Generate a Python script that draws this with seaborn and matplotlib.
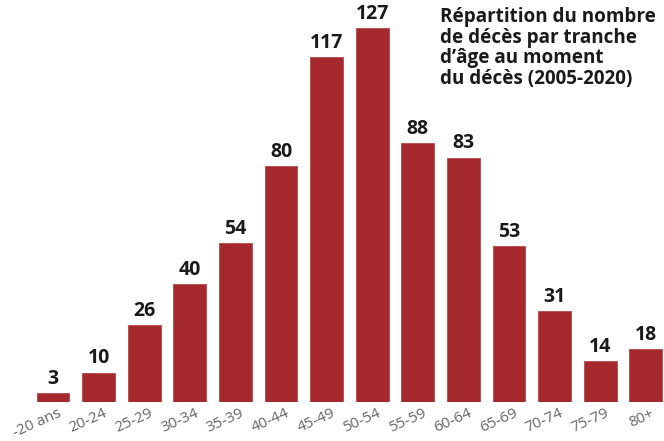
import matplotlib
matplotlib.use("Agg")
import matplotlib.pyplot as plt
import matplotlib.transforms as mtransforms
import seaborn as sns
import pandas as pd

# Deaths by age group at time of death, 2005-2020
age_groups = ["-20 ans", "20-24", "25-29", "30-34", "35-39", "40-44", "45-49",
              "50-54", "55-59", "60-64", "65-69", "70-74", "75-79", "80+"]
deaths = [3, 10, 26, 40, 54, 80, 117, 127, 88, 83, 53, 31, 14, 18]
title_text = ("Répartition du nombre\nde décès par tranche\n"
              "d\u2019âge au moment\ndu décès (2005-2020)")

sns.set_theme(style="white")
plt.rcParams["font.family"] = ["Open Sans", "DejaVu Sans"]

df = pd.DataFrame({"age": age_groups, "deaths": deaths})

fig = plt.figure(figsize=(6.64, 4.41), dpi=100)
ax = fig.add_axes([0, 39 / 441, 1, 1 - 39 / 441])

sns.barplot(data=df, x="age", y="deaths", color="#a5292c", saturation=1,
            width=0.72, edgecolor="#b8484a", linewidth=0.6, ax=ax)

ax.set_xlim(-53 / 45.6, (664 - 53) / 45.6)
ax.set_ylim(0, 402 / 2.945)

for container in ax.containers:
    ax.bar_label(container, labels=[str(v) for v in deaths], padding=3,
                 fontsize=14, fontweight="bold", color="#1a1a1a")

ax.set_xlabel("")
ax.set_ylabel("")
ax.set_yticks([])
ax.tick_params(axis="x", length=0, pad=3)
shift = mtransforms.ScaledTranslation(5 / 100, 0, fig.dpi_scale_trans)
for lbl in ax.get_xticklabels():
    lbl.set_rotation(24)
    lbl.set_ha("right")
    lbl.set_rotation_mode("anchor")
    lbl.set_fontsize(11)
    lbl.set_color("#666666")
    lbl.set_transform(lbl.get_transform() + shift)
for s in ax.spines.values():
    s.set_visible(False)

fig.text(440 / 664, 1 - 7 / 441, title_text, ha="left", va="top",
         fontsize=13.6, fontweight="bold", color="#1a1a1a", linespacing=1.04)

fig.savefig("out.png", dpi=100)
